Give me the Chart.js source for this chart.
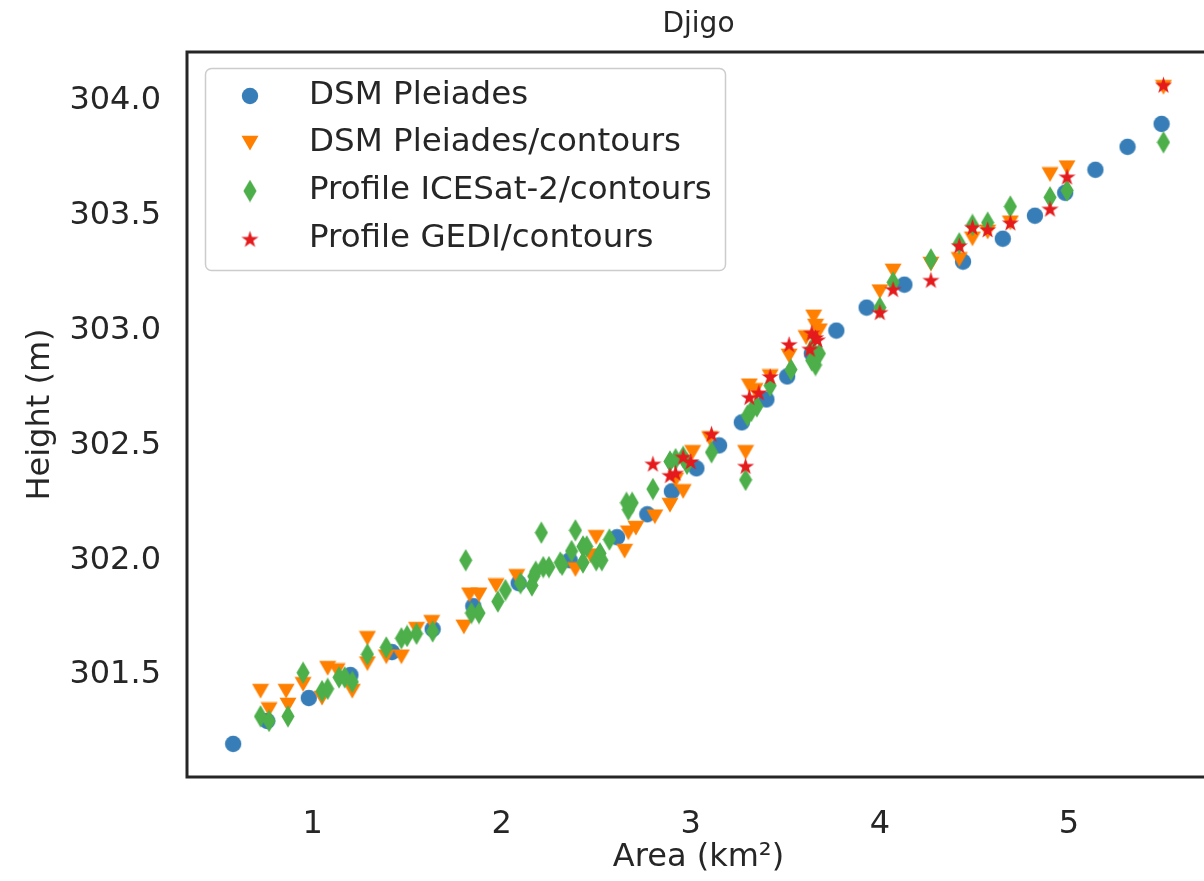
<!DOCTYPE html>
<html>
<head>
<meta charset="utf-8">
<title>Djigo</title>
<script src="https://cdn.jsdelivr.net/npm/chart.js@4.4.1/dist/chart.umd.min.js"></script>
<style>
  html, body { margin: 0; padding: 0; background: #fff; overflow: hidden; }
  #wrap { width: 1204px; height: 881px; overflow: hidden; }
</style>
</head>
<body>
<div id="wrap"><canvas id="chart" width="1220" height="881"></canvas></div>
<script>
// --- data: area (km²) / height (m) per source ---
const pleiadesArea = [0.58, 0.76, 0.98, 1.20, 1.42, 1.635, 1.85, 2.09, 2.36, 2.61, 2.77, 2.90, 3.03, 3.15,
    3.27, 3.40, 3.51, 3.64, 3.77, 3.93, 4.13, 4.44, 4.65, 4.82, 4.98, 5.14, 5.31, 5.49];
const pleiadesHeight = [301.2, 301.3, 301.4, 301.5, 301.6, 301.7, 301.8, 301.9, 302.0, 302.1, 302.2, 302.3, 302.4, 302.5,
    302.6, 302.7, 302.8, 302.9, 303.0, 303.1, 303.2, 303.3, 303.4, 303.5, 303.6, 303.7, 303.8, 303.9];

const contoursArea = [0.725, 0.77, 0.86, 0.87, 0.95, 1.05, 1.08, 1.13, 1.21, 1.29, 1.29, 1.39, 1.47, 1.55, 1.63,
    1.80, 1.83, 1.88, 1.97, 2.08, 2.39, 2.47, 2.50, 2.65, 2.67, 2.71, 2.81, 2.89, 2.96, 2.92, 3.01, 3.10, 3.29,
    3.31, 3.34, 3.42, 3.52, 3.61, 3.65, 3.66, 3.68, 4.00, 4.07, 4.27, 4.42, 4.49, 4.57, 4.69, 4.90, 4.99, 5.50];
const contoursHeight = [301.43, 301.35, 301.43, 301.37, 301.46, 301.40, 301.53, 301.52, 301.43, 301.66, 301.55, 301.58, 301.58, 301.70, 301.73,
    301.71, 301.85, 301.85, 301.89, 301.93, 301.96, 302.02, 302.10, 302.04, 302.12, 302.14, 302.19, 302.24, 302.30, 302.35, 302.47, 302.53, 302.47,
    302.76, 302.74, 302.80, 302.89, 302.97, 303.06, 303.02, 303.00, 303.17, 303.26, 303.29, 303.31, 303.40, 303.43, 303.47, 303.68, 303.71, 304.06];

const icesatArea = [0.725, 0.77, 0.87, 0.95, 1.05, 1.08, 1.14, 1.17, 1.21, 1.29, 1.39, 1.47, 1.50, 1.55, 1.635,
    1.81, 1.84, 1.88, 1.98, 2.02, 2.10, 2.16, 2.17, 2.18, 2.21, 2.22, 2.25, 2.31, 2.32, 2.37, 2.39, 2.43, 2.43,
    2.45, 2.50, 2.52, 2.53, 2.57, 2.66, 2.69, 2.67, 2.80, 2.89, 2.92, 2.96, 2.98, 3.11, 3.29, 3.30, 3.32, 3.35,
    3.42, 3.53, 3.64, 3.64, 3.66, 3.68, 4.00, 4.07, 4.27, 4.42, 4.49, 4.57, 4.69, 4.90, 4.99, 5.50];
const icesatHeight = [301.32, 301.30, 301.32, 301.51, 301.43, 301.44, 301.49, 301.49, 301.47, 301.59, 301.62, 301.66, 301.67, 301.68, 301.69,
    302.00, 301.77, 301.77, 301.82, 301.87, 301.90, 301.89, 301.93, 301.95, 302.12, 301.97, 301.97, 301.99, 301.98, 302.04, 302.13, 302.06, 301.99,
    302.06, 302.00, 302.03, 302.00, 302.09, 302.25, 302.25, 302.22, 302.31, 302.43, 302.44, 302.45, 302.42, 302.47, 302.35, 302.63, 302.65, 302.67,
    302.76, 302.83, 302.92, 302.87, 302.85, 302.90, 303.10, 303.21, 303.31, 303.38, 303.46, 303.47, 303.54, 303.58, 303.61, 303.82];

const gediArea = [2.80, 2.89, 2.92, 2.96, 3.00, 3.11, 3.29, 3.31, 3.36, 3.42, 3.52, 3.63, 3.64, 3.66, 3.67,
    4.00, 4.07, 4.27, 4.42, 4.49, 4.57, 4.69, 4.90, 4.99, 5.50];
const gediHeight = [302.42, 302.37, 302.38, 302.45, 302.43, 302.55, 302.41, 302.71, 302.73, 302.80, 302.94, 302.92, 302.99, 302.97, 302.96,
    303.08, 303.18, 303.22, 303.37, 303.45, 303.44, 303.47, 303.53, 303.67, 304.07];

const seriesLabels = ['DSM Pleiades', 'DSM Pleiades/contours', 'Profile ICESat-2/contours', 'Profile GEDI/contours'];
const seriesColors = ['#377eb8', '#ff7f00', '#4daf4a', '#e41a1c'];
const seriesShapes = ['circle', 'triangleDown', 'thinDiamond', 'star'];

const xTicks = [1, 2, 3, 4, 5];
const yTicks = [301.5, 302.0, 302.5, 303.0, 303.5, 304.0];

const chartTitle = 'Djigo';

const FONT = "'DejaVu Sans', sans-serif";
const TEXT = '#262626';

// marker sprites, matplotlib-like shapes
function makeMarker(shape, color) {
    const c = document.createElement('canvas');
    const g = c.getContext('2d');
    if (shape === 'circle') {
        c.width = 18; c.height = 18;
        g.beginPath();
        g.arc(9, 9, 8.2, 0, Math.PI * 2);
    } else if (shape === 'triangleDown') {
        c.width = 18; c.height = 16;
        g.beginPath();
        g.moveTo(0.5, 0.8);
        g.lineTo(17.5, 0.8);
        g.lineTo(9, 15.5);
    } else if (shape === 'thinDiamond') {
        c.width = 14; c.height = 23;
        g.beginPath();
        g.moveTo(7, 0.3);
        g.lineTo(13.6, 11.5);
        g.lineTo(7, 22.7);
        g.lineTo(0.4, 11.5);
    } else {
        c.width = 19; c.height = 19;
        g.beginPath();
        const R = 9, r = R * 0.382;
        for (let i = 0; i < 10; i++) {
            const a = -Math.PI / 2 + i * Math.PI / 5;
            const rad = i % 2 === 0 ? R : r;
            const px = 9.5 + rad * Math.cos(a), py = 10.3 + rad * Math.sin(a);
            if (i === 0) g.moveTo(px, py); else g.lineTo(px, py);
        }
    }
    g.closePath();
    g.fillStyle = color;
    g.fill();
    return c;
}

const markers = seriesShapes.map((s, i) => makeMarker(s, seriesColors[i]));

function toPoints(xs, ys) {
    return xs.map((x, i) => ({ x: x, y: ys[i] }));
}

const seriesData = [
    toPoints(pleiadesArea, pleiadesHeight),
    toPoints(contoursArea, contoursHeight),
    toPoints(icesatArea, icesatHeight),
    toPoints(gediArea, gediHeight)
];

// title, frame around the plot and the legend box in the upper left
const framePlugin = {
    id: 'frameAndLegend',
    afterDraw(chart) {
        const ctx = chart.ctx;
        const a = chart.chartArea;
        ctx.save();

        ctx.font = '28px ' + FONT;
        ctx.fillStyle = TEXT;
        ctx.textAlign = 'center';
        ctx.textBaseline = 'middle';
        ctx.fillText(chartTitle, (a.left + a.right) / 2, 25);

        ctx.strokeStyle = TEXT;
        ctx.lineWidth = 3;
        ctx.strokeRect(a.left, a.top, a.right - a.left, a.bottom - a.top);

        // legend
        const bx = 205.5, by = 68.5, bw = 520, bh = 202, rr = 6;
        ctx.beginPath();
        ctx.moveTo(bx + rr, by);
        ctx.arcTo(bx + bw, by, bx + bw, by + bh, rr);
        ctx.arcTo(bx + bw, by + bh, bx, by + bh, rr);
        ctx.arcTo(bx, by + bh, bx, by, rr);
        ctx.arcTo(bx, by, bx + bw, by, rr);
        ctx.closePath();
        ctx.fillStyle = 'rgba(255,255,255,0.8)';
        ctx.fill();
        ctx.lineWidth = 1.5;
        ctx.strokeStyle = '#cccccc';
        ctx.stroke();

        const rows = [96, 143, 191, 239];
        ctx.font = '32.5px ' + FONT;
        ctx.fillStyle = TEXT;
        ctx.textBaseline = 'middle';
        ctx.textAlign = 'left';
        chart.data.datasets.forEach((ds, i) => {
            const m = markers[i];
            ctx.drawImage(m, 250 - m.width / 2, rows[i] - m.height / 2);
            ctx.fillText(ds.label, 309, rows[i]);
        });
        ctx.restore();
    }
};

const ctx = document.getElementById('chart').getContext('2d');
const chart = new Chart(ctx, {
    type: 'scatter',
    data: {
        datasets: seriesData.map((pts, i) => ({
            label: seriesLabels[i],
            data: pts,
            pointStyle: markers[i],
            pointRadius: 8,
            backgroundColor: seriesColors[i],
            borderColor: seriesColors[i],
            order: 4 - i
        }))
    },
    options: {
        responsive: false,
        animation: false,
        layout: { padding: { left: 0, right: 10, top: 52, bottom: 0 } },
        plugins: {
            legend: { display: false },
            tooltip: { enabled: false },
            title: { display: false }
        },
        scales: {
            x: {
                type: 'linear',
                min: 0.336,
                max: 5.746,
                grid: { display: false },
                border: { display: false },
                afterBuildTicks: s => { s.ticks = xTicks.map(v => ({ value: v })); },
                afterFit: s => { s.height = 104; },
                ticks: {
                    color: TEXT,
                    padding: 20,
                    font: { family: FONT, size: 32 },
                    callback: v => String(v)
                },
                title: {
                    display: true,
                    text: 'Area (km²)',
                    color: TEXT,
                    font: { family: FONT, size: 32 },
                    padding: { top: 0, bottom: 4 }
                }
            },
            y: {
                type: 'linear',
                min: 301.056,
                max: 304.213,
                grid: { display: false },
                border: { display: false },
                afterBuildTicks: s => { s.ticks = yTicks.map(v => ({ value: v })); },
                afterFit: s => { s.width = 187; },
                ticks: {
                    color: TEXT,
                    padding: 18,
                    font: { family: FONT, size: 32 },
                    callback: v => Number(v).toFixed(1)
                },
                title: {
                    display: true,
                    text: 'Height (m)',
                    color: TEXT,
                    font: { family: FONT, size: 32 },
                    padding: { top: 21, bottom: 0 }
                }
            }
        }
    },
    plugins: [framePlugin]
});
</script>
</body>
</html>
